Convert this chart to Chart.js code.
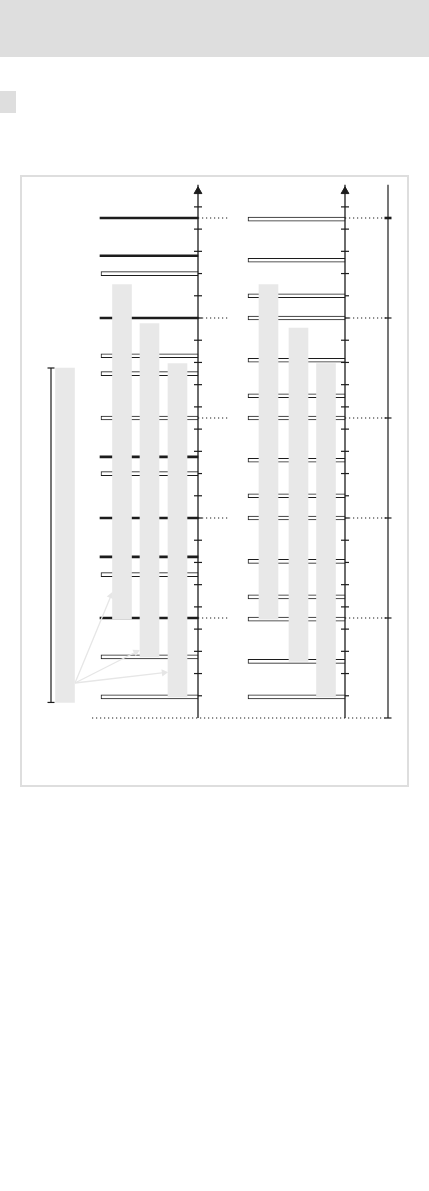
<!DOCTYPE html>
<html>
<head>
<meta charset="utf-8">
<script src="https://cdn.jsdelivr.net/npm/chart.js@4.4.1/dist/chart.umd.min.js"></script>
<style>
  html, body { margin: 0; padding: 0; background: #fff; }
  body { width: 429px; height: 1191px; position: relative; overflow: hidden; }
  .header { position: absolute; left: 0; top: 0; width: 429px; height: 57px; background: #dedede; }
  .marker { position: absolute; left: 0; top: 91px; width: 16px; height: 22px; background: #dedede; }
  .frame { position: absolute; left: 20px; top: 175px; width: 385px; height: 608px; border: 2px solid #dedede; }
  .plot { position: absolute; left: 0; top: 158px; width: 429px; height: 640px; }
</style>
</head>
<body>
<div class="header"></div>
<div class="marker"></div>
<div class="frame"></div>
<div class="plot"><canvas id="diagram" width="429" height="640"></canvas></div>

<script>
// values (vertical units, 0 = base line)
const axisTicks = [10, 20, 30, 40, 50, 60, 70, 80, 90, 100, 110, 120, 130, 140, 150, 160, 170, 180, 190, 200, 210, 220, 230];
const guideLevels = [45, 90, 135, 180, 225];
const axisTop = 240;

const leftSolidLevels = [225, 208, 180, 117.5, 90, 72.5, 45];
const leftHollowLevels = [200, 163, 155, 135, 110, 64.5, 27.5, 9.5];
const rightHollowLevels = [224.5, 206, 190, 180, 161, 145, 135, 116, 100, 90, 70.5, 54.5, 44.5, 25.5, 9.5];

const leftColTop = [157.5, 195, 177.5, 159.5];
const leftColBottom = [7, 44.5, 27.5, 9.5];
const rightColTop = [195, 175.5, 159.5];
const rightColBottom = [44.5, 25.5, 9.5];

const pointerFrom = 15.75;
const pointerTo = [55, 29.7, 20.4];

// layout (horizontal positions in page pixels)
const leftAxisX = 198, rightAxisX = 345, spanX = 388, dimX = 51;
const leftLineStart = 100, rightLineStart = 248;
const leftColX = [65, 122, 149.5, 177.5];
const rightColX = [268.5, 298.5, 326];
const pointerStartX = 75;
const pointerEndX = [111, 136, 164];
const pointerRot = [22, 63, 83];

const INK = "#1c1c1c";
const SHADE = "#e8e8e8";
const FAINT = "#e6e6e6";

function hLines(levels, x0, x1, hollow) {
  return {
    type: "bar",
    indexAxis: "y",
    data: levels.map(v => ({ y: v, x: [x0, x1] })),
    barThickness: hollow ? 4 : 2,
    backgroundColor: hollow ? "#ffffff" : INK,
    borderColor: INK,
    borderWidth: hollow ? 1 : 0,
    borderSkipped: false,
    grouped: false,
    order: 2,
  };
}

function columns(xs, tops, bottoms) {
  return {
    type: "bar",
    data: xs.map((x, i) => ({ x: x, y: [bottoms[i], tops[i]] })),
    barThickness: 19,
    backgroundColor: SHADE,
    borderWidth: 0,
    grouped: false,
    order: 0,
  };
}

function segment(x0, y0, x1, y1, color, width, dash) {
  return {
    type: "line",
    data: [{ x: x0, y: y0 }, { x: x1, y: y1 }],
    borderColor: color,
    borderWidth: width,
    borderDash: dash || [],
    pointRadius: 0,
    order: 3,
  };
}

function tickMarks(x, levels, radius, widths) {
  return {
    type: "line",
    showLine: false,
    data: levels.map(v => ({ x: x, y: v })),
    pointStyle: "line",
    pointRadius: radius,
    pointBorderColor: INK,
    pointBorderWidth: widths || 1.2,
    order: 3,
  };
}

function arrowHead(x) {
  return {
    type: "line",
    showLine: false,
    data: [{ x: x, y: axisTop - 3 }],
    pointStyle: "triangle",
    pointRadius: 4.5,
    pointBackgroundColor: INK,
    pointBorderColor: INK,
    pointBorderWidth: 1,
    order: 3,
  };
}

const datasets = [];

datasets.push(columns(leftColX, leftColTop, leftColBottom));
datasets.push(columns(rightColX, rightColTop, rightColBottom));

datasets.push(hLines(leftSolidLevels, leftLineStart, leftAxisX, false));
datasets.push(hLines(leftHollowLevels, leftLineStart + 1, leftAxisX, true));
datasets.push(hLines(rightHollowLevels, rightLineStart, rightAxisX, true));

// axes
datasets.push(segment(leftAxisX, 0, leftAxisX, axisTop, INK, 1.3));
datasets.push(segment(rightAxisX, 0, rightAxisX, axisTop, INK, 1.3));
datasets.push(arrowHead(leftAxisX));
datasets.push(arrowHead(rightAxisX));
datasets.push(tickMarks(leftAxisX, axisTicks, 4));
datasets.push(tickMarks(rightAxisX, axisTicks, 4));

// dotted guides
guideLevels.forEach(v => {
  datasets.push(segment(leftAxisX, v, leftAxisX + 30, v, INK, 1.1, [1.2, 2.8]));
  datasets.push(segment(rightAxisX, v, spanX, v, INK, 1.1, [1.2, 2.8]));
});
datasets.push(segment(92, 0, spanX, 0, INK, 1.1, [1.2, 2.8]));

// overall span on the right
datasets.push(segment(spanX, 0, spanX, axisTop, INK, 1.2));
datasets.push(tickMarks(spanX, [0].concat(guideLevels), 3.5, [1.2, 1.2, 1.2, 1.2, 1.2, 2.6]));

// span of the left column
datasets.push(segment(dimX, leftColBottom[0], dimX, leftColTop[0], INK, 1.2));
datasets.push(tickMarks(dimX, [leftColBottom[0], leftColTop[0]], 3.5));

// light pointers
pointerTo.forEach((v, i) => {
  datasets.push({
    type: "line",
    data: [{ x: pointerStartX, y: pointerFrom }, { x: pointerEndX[i], y: v }],
    borderColor: FAINT,
    borderWidth: 1.3,
    pointRadius: [0, 3],
    pointStyle: "triangle",
    pointRotation: [0, pointerRot[i]],
    pointBackgroundColor: FAINT,
    pointBorderColor: FAINT,
    order: 1,
  });
});

new Chart(document.getElementById("diagram"), {
  type: "line",
  data: { datasets: datasets },
  options: {
    responsive: false,
    animation: false,
    events: [],
    layout: { padding: 0, autoPadding: false },
    plugins: {
      legend: { display: false },
      tooltip: { enabled: false },
    },
    scales: {
      x: { type: "linear", min: 0, max: 429, display: false, offset: false },
      y: { type: "linear", min: -36, max: 252, display: false, offset: false },
    },
  },
});
</script>
</body>
</html>
